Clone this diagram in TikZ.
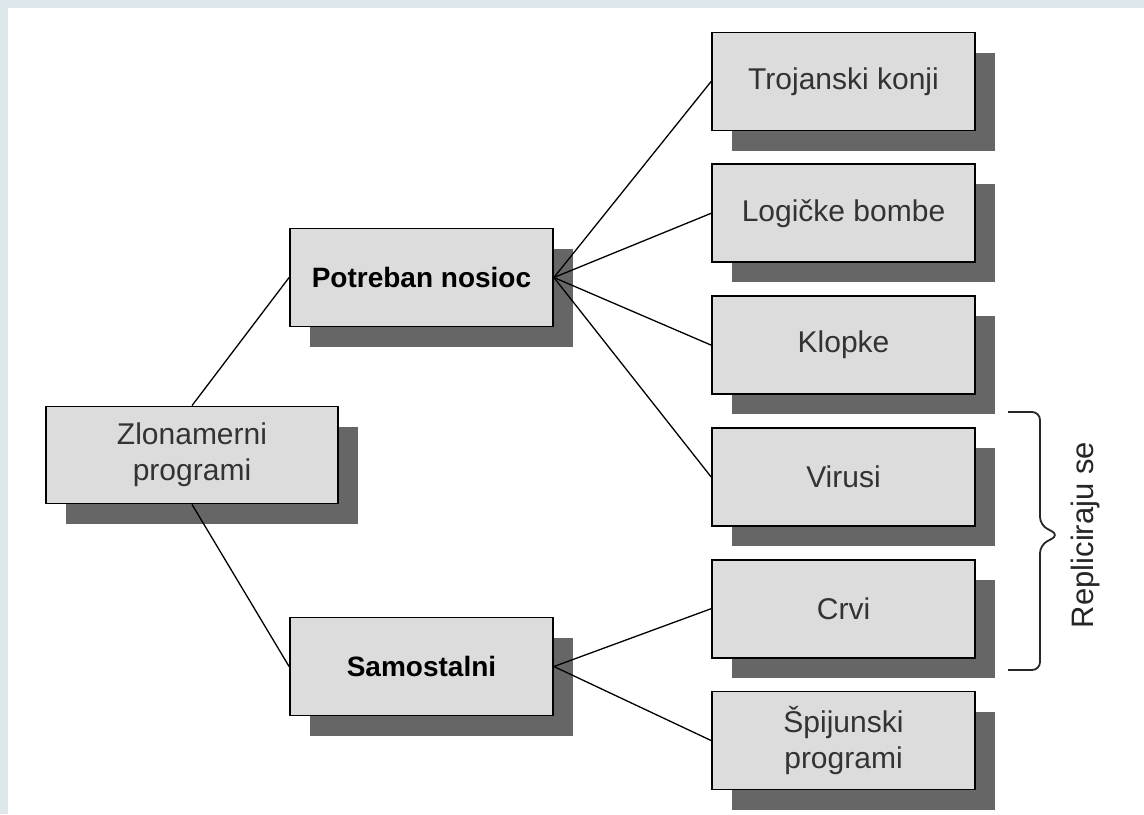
\documentclass[tikz,border=0pt]{standalone}
\usepackage{fontspec}
\setmainfont{Liberation Sans}
\usetikzlibrary{positioning,shadows}
\definecolor{framebg}{HTML}{DDE7EC}
\definecolor{boxfill}{HTML}{DCDCDC}
\definecolor{boxshadow}{HTML}{666666}
\begin{document}
\begin{tikzpicture}[x=0.5pt, y=-0.5pt,
  box/.style={draw=black, line width=0.9pt, fill=boxfill, align=center, minimum width=131.5pt, minimum height=49pt, inner sep=2pt, font=\fontsize{15}{18}\selectfont, text=black!80, drop shadow={shadow xshift=10pt, shadow yshift=-10pt, fill=boxshadow, opacity=1}},
  mainbox/.style={box, font=\fontsize{14}{17}\selectfont\bfseries, text=black},
  link/.style={line width=0.65pt, draw=black},
  bracket/.style={line width=0.9pt, draw=black!85, rounded corners=4pt},
  node distance=16pt
]
\useasboundingbox (0,0) rectangle (1144,814);
\fill[framebg] (0,0) rectangle (1144,8);
\fill[framebg] (0,0) rectangle (8,814);

\node[box, minimum width=146pt, minimum height=48.5pt] (malware) at (192,455) {Zlonamerni\\programi};
\node[mainbox] (host) at (421.5,277.5) {Potreban nosioc};
\node[mainbox] (standalone) at (421.5,666.5) {Samostalni};
\node[box] (trojan) at (843.5,81.5) {Trojanski konji};
\node[box, below=of trojan] (logic) {Logičke bombe};
\node[box, below=of logic] (trap) {Klopke};
\node[box, below=of trap] (virus) {Virusi};
\node[box, below=of virus] (worm) {Crvi};
\node[box, below=of worm] (spy) {Špijunski\\programi};

\draw[link] (malware.north) -- (host.west);
\draw[link] (malware.south) -- (standalone.west);
\foreach \leaf in {trojan,logic,trap,virus}
  \draw[link] (host.east) -- (\leaf.west);
\foreach \leaf in {worm,spy}
  \draw[link] (standalone.east) -- (\leaf.west);

\draw[bracket] (1008,412) -- (1040,412) -- (1040,525) -- (1059,535) -- (1040,545) -- (1040,670) -- (1008,670);
\node[rotate=90, font=\fontsize{15.5}{18}\selectfont, text=black!85] (replicate) at (1085,535) {Repliciraju se};
\end{tikzpicture}
\end{document}
